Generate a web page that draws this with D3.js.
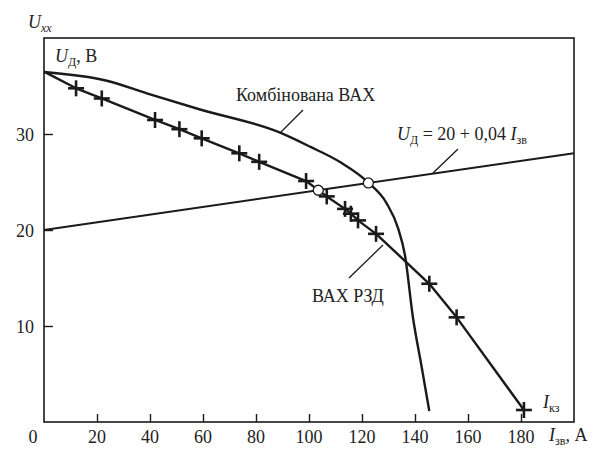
<!DOCTYPE html>
<html>
<head>
<meta charset="utf-8">
<script src="https://cdn.jsdelivr.net/npm/d3@7"></script>
<style>
  html, body { margin: 0; padding: 0; background: #fff; overflow: hidden; }
  svg { display: block; }
  .curve { fill: none; stroke: #1a1a1a; stroke-linejoin: round; }
</style>
</head>
<body>
<svg id="chart" width="607" height="449" font-family="Liberation Serif, serif"></svg>
<script>
// characteristic of the welding source (line with measured points)
const rzdI = [0, 12.1, 21.8, 41.9, 51.1, 59.5, 73.7, 81.2, 98.9, 106.7, 113.6, 115.8, 118.5, 125.3, 145.4, 155.7, 181.1];
const rzdU = [36.5, 34.76, 33.7, 31.46, 30.5, 29.55, 27.99, 27.1, 25.1, 23.5, 22.2, 21.7, 21.0, 19.6, 14.4, 10.9, 1.25];
// measured points (crosses)
const pointI = [12.1, 21.8, 41.9, 51.1, 59.5, 73.7, 81.2, 98.9, 106.7, 113.6, 115.8, 118.5, 125.3, 145.4, 155.7, 181.1];
const pointU = [34.76, 33.7, 31.46, 30.5, 29.55, 27.99, 27.1, 25.1, 23.5, 22.2, 21.7, 21.0, 19.6, 14.4, 10.9, 1.25];
// combined characteristic
const combI = [0, 23.7, 38.8, 58.9, 89.1, 100.4, 111.7, 122.4, 129.3, 133.6, 136.2, 139.2, 142.5, 145.4];
const combU = [36.46, 35.55, 34.24, 32.55, 30.14, 28.68, 27.08, 24.93, 22.78, 20.2, 17.4, 10.94, 5.76, 1.15];
// arc load line U = 20 + 0.04 I
const loadI = [0, 200];
const loadU = [20, 28];
// operating points
const opI = [103.5, 122.4];
const opU = [24.14, 24.9];

const xTicks = [0, 20, 40, 60, 80, 100, 120, 140, 160, 180];
const yTicks = [10, 20, 30];

const svg = d3.select('#chart');
const margin = { top: 38, right: 33, bottom: 27, left: 44 };
const width = +svg.attr('width');
const height = +svg.attr('height');
const innerWidth = width - margin.left - margin.right;
const innerHeight = height - margin.top - margin.bottom;

const x = d3.scaleLinear().domain([0, 200]).range([0, innerWidth]);
const y = d3.scaleLinear().domain([0, 40]).range([innerHeight, 0]);

const g = svg.append('g')
    .attr('transform', `translate(${margin.left},${margin.top})`);

// frame
g.append('rect')
    .attr('width', innerWidth)
    .attr('height', innerHeight)
    .attr('fill', 'none')
    .attr('stroke', '#1a1a1a')
    .attr('stroke-width', 1.6);

// axes with inner ticks
const xAxis = d3.axisBottom(x).tickValues(xTicks.slice(1)).tickSize(-8).tickFormat('');
const yAxis = d3.axisLeft(y).tickValues(yTicks).tickSize(-9).tickFormat('');

const xAxisG = g.append('g').attr('transform', `translate(0,${innerHeight})`).call(xAxis);
const yAxisG = g.append('g').call(yAxis);
[xAxisG, yAxisG].forEach(a => {
    a.select('.domain').remove();
    a.selectAll('line').attr('stroke', '#1a1a1a').attr('stroke-width', 1.4);
});

// tick labels
g.selectAll('.xlab')
    .data(xTicks)
    .enter().append('text')
    .attr('class', 'xlab')
    .attr('x', d => d === 0 ? x(d) - 11 : x(d))
    .attr('y', innerHeight + 21)
    .attr('text-anchor', 'middle')
    .attr('font-size', 18)
    .attr('fill', '#222')
    .text(d => d);

g.selectAll('.ylab')
    .data(yTicks)
    .enter().append('text')
    .attr('class', 'ylab')
    .attr('x', -10)
    .attr('y', d => y(d) + 7)
    .attr('text-anchor', 'end')
    .attr('font-size', 18)
    .attr('fill', '#222')
    .text(d => d);

// curves
const lineOf = (xs, ys, curve) => d3.line()
    .x(i => x(xs[i]))
    .y(i => y(ys[i]))
    .curve(curve)(d3.range(xs.length));

g.append('path')
    .attr('class', 'curve')
    .attr('stroke-width', 2)
    .attr('d', lineOf(loadI, loadU, d3.curveLinear));

g.append('path')
    .attr('class', 'curve')
    .attr('stroke-width', 2.4)
    .attr('d', lineOf(combI, combU, d3.curveMonotoneX));

g.append('path')
    .attr('class', 'curve')
    .attr('stroke-width', 2.4)
    .attr('d', lineOf(rzdI, rzdU, d3.curveLinear));

// crosses
const cross = g.selectAll('.cross')
    .data(d3.range(pointI.length))
    .enter().append('g')
    .attr('class', 'cross')
    .attr('transform', i => `translate(${x(pointI[i])},${y(pointU[i])})`);
cross.append('line').attr('x1', -8).attr('x2', 8)
    .attr('stroke', '#1a1a1a').attr('stroke-width', 2.6);
cross.append('line').attr('y1', -8).attr('y2', 8)
    .attr('stroke', '#1a1a1a').attr('stroke-width', 2.6);

// operating points
g.selectAll('.op')
    .data(d3.range(opI.length))
    .enter().append('circle')
    .attr('class', 'op')
    .attr('cx', i => x(opI[i]))
    .attr('cy', i => y(opU[i]))
    .attr('r', 5)
    .attr('fill', '#fff')
    .attr('stroke', '#1a1a1a')
    .attr('stroke-width', 1.3);

// leader lines (page coordinates)
const leaders = [
    [303, 110, 280, 133],
    [458, 149, 433, 173],
    [349, 278, 383, 245]
];
svg.selectAll('.leader')
    .data(leaders)
    .enter().append('line')
    .attr('class', 'leader')
    .attr('x1', d => d[0]).attr('y1', d => d[1])
    .attr('x2', d => d[2]).attr('y2', d => d[3])
    .attr('stroke', '#1a1a1a')
    .attr('stroke-width', 1.3);

// annotations
function label(xp, yp, parts) {
    const t = svg.append('text').attr('x', xp).attr('y', yp)
        .attr('font-size', 18).attr('fill', '#222');
    parts.forEach(p => {
        const s = t.append('tspan').text(p.t);
        if (p.i) s.attr('font-style', 'italic');
        if (p.sub) s.attr('font-size', 12).attr('dy', 4);
        if (p.up) s.attr('dy', -4);
    });
    return t;
}

label(28, 28, [{ t: 'U', i: true }, { t: 'xx', i: true, sub: true }]);
label(55, 62, [{ t: 'U', i: true }, { t: 'Д', sub: true }, { t: ', В', up: true }]);
label(236, 101, [{ t: 'Комбінована ВАХ' }]);
label(397, 140, [{ t: 'U', i: true }, { t: 'Д', sub: true }, { t: ' = 20 + 0,04 ', up: true },
    { t: 'I', i: true }, { t: 'зв', sub: true }]);
label(312, 302, [{ t: 'ВАХ РЗД' }]);
label(543, 408, [{ t: 'I', i: true }, { t: 'кз', sub: true }]);
label(549, 441, [{ t: 'I', i: true }, { t: 'зв', sub: true }, { t: ', А', up: true }]);
</script>
</body>
</html>
